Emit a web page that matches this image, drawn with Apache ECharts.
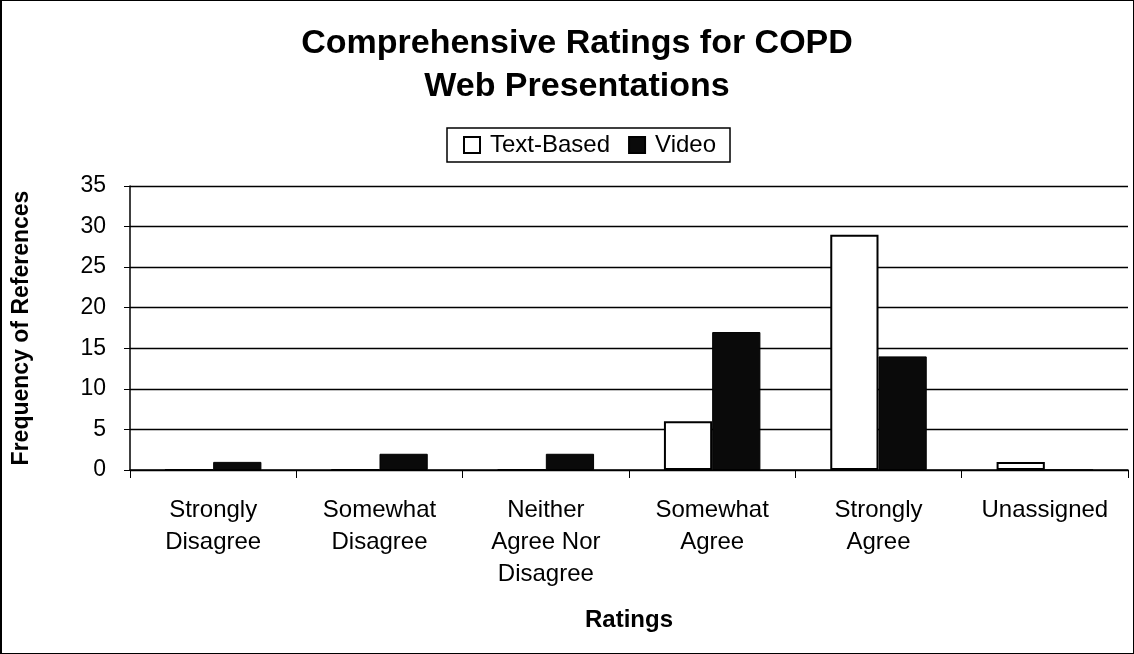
<!DOCTYPE html>
<html><head><meta charset="utf-8">
<script src="https://cdn.jsdelivr.net/npm/echarts@6/dist/echarts.min.js"></script>
<style>html,body{margin:0;padding:0;background:#fff}#c{width:1134px;height:654px;box-sizing:border-box;border:1px solid #000;border-left-width:2px}</style>
</head><body><div id="c"></div>
<script>
const categories = ['Strongly\nDisagree','Somewhat\nDisagree','Neither\nAgree Nor\nDisagree','Somewhat\nAgree','Strongly\nAgree','Unassigned'];
const textBased = [0,0,0,6,29,1];
const video = [1,2,2,17,14,0];
const yTicks = {min:0,max:35,interval:5};
const F = 'Liberation Sans, Arial, sans-serif';
const chart = echarts.init(document.getElementById('c'));
chart.setOption({
  animation:false,
  backgroundColor:'#fff',
  title:{text:'Comprehensive Ratings for COPD\nWeb Presentations',left:570,textAlign:'center',top:16,padding:[5,5,5,5],
    textStyle:{fontFamily:F,fontSize:34,fontWeight:'bold',color:'#000',lineHeight:43}},
  legend:{top:127,left:445,itemWidth:16,itemHeight:16,itemGap:18,
    borderColor:'#000',borderWidth:1.5,padding:[5,14,5,16],borderRadius:0,
    textStyle:{fontFamily:F,fontSize:24,color:'#000',padding:[0,0,0,5]},
    data:[{name:'Text-Based',icon:'rect'},{name:'Video',icon:'rect'}]},
  grid:{left:128,right:5,top:185,bottom:183,containLabel:false},
  xAxis:{type:'category',data:categories,name:'Ratings',nameLocation:'middle',nameGap:138,
    nameTextStyle:{fontFamily:F,fontSize:24,fontWeight:'bold',color:'#000'},
    axisLine:{lineStyle:{color:'#000',width:1.5}},
    axisTick:{show:true,length:8,lineStyle:{color:'#000'},alignWithLabel:false},
    axisLabel:{fontFamily:F,fontSize:24,color:'#000',lineHeight:32,margin:24,interval:0}},
  yAxis:{type:'value',min:yTicks.min,max:yTicks.max,interval:yTicks.interval,
    name:'Frequency of References',nameLocation:'middle',nameGap:97,
    nameTextStyle:{fontFamily:F,fontSize:23,fontWeight:'bold',color:'#000'},
    axisLine:{show:true,lineStyle:{color:'#000',width:1.5}},
    axisTick:{show:true,length:6,lineStyle:{color:'#000'}},
    axisLabel:{fontFamily:F,fontSize:23,color:'#000',margin:24},
    splitLine:{lineStyle:{color:'#000',width:1.4}}},
  series:[
    {name:'Text-Based',type:'bar',data:textBased,barGap:'0%',barCategoryGap:'42%',
      itemStyle:{color:'#fff',borderColor:'#000',borderWidth:2}},
    {name:'Video',type:'bar',data:video,
      itemStyle:{color:'#0a0a0a',borderColor:'#000',borderWidth:1}}
  ]
});
</script></body></html>
